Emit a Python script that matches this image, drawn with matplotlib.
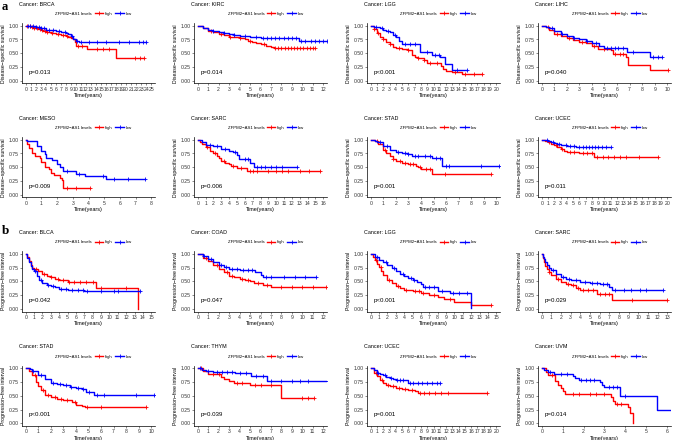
import matplotlib
matplotlib.use('Agg')
import numpy as np
import matplotlib.pyplot as plt
from matplotlib.lines import Line2D

plt.rcParams['font.family'] = ['Liberation Sans', 'DejaVu Sans']

# step curves: (times, survival after that time); *_CENS = censor times
# ---- a: disease-specific survival ----
A_BRCA_HIGH = ([0, 0.5, 1, 1.5, 2, 2.5, 3, 3.5, 4, 5, 6, 7, 8, 8.5, 9, 9.5, 9.8, 10.1, 12.3, 18.0, 23.6],
               [1.0, 0.99, 0.98, 0.96, 0.95, 0.94, 0.92, 0.91, 0.89, 0.87, 0.85, 0.83, 0.81, 0.79, 0.77, 0.75, 0.70, 0.63, 0.57, 0.42, 0.42])
A_BRCA_HIGH_CENS = [0.3, 0.8, 1.2, 1.7, 2.3, 2.8, 3.3, 3.8, 4.3, 5.2, 6.4, 7.5, 8.3, 10.5, 11.2, 14.2, 15.4, 16.6, 21.8, 22.7, 23.6]
A_BRCA_LOW = ([0, 1, 2, 3, 4, 5, 6, 7, 8, 8.5, 9, 9.5, 10, 10.6, 24.0],
              [1.0, 0.99, 0.97, 0.95, 0.93, 0.92, 0.90, 0.89, 0.87, 0.85, 0.81, 0.76, 0.73, 0.70, 0.70])
A_BRCA_LOW_CENS = [0.4, 0.9, 1.4, 2.1, 2.6, 3.1, 3.6, 4.6, 5.5, 6.7, 7.8, 9.2, 10.3, 11.0, 12.5, 14.2, 16.0, 18.5, 20.5, 22.5, 23.3, 24.0]

A_KIRC_HIGH = ([0, 0.5, 1, 1.5, 2, 2.5, 3, 3.5, 4, 4.5, 4.8, 5.2, 5.6, 6, 6.5, 7, 7.3, 11.2],
               [1, 0.95, 0.91, 0.88, 0.85, 0.83, 0.80, 0.79, 0.77, 0.75, 0.72, 0.70, 0.68, 0.66, 0.64, 0.62, 0.60, 0.60])
A_KIRC_HIGH_CENS = [1.3, 2.2, 3.1, 4.0, 5.0, 6.3, 7.4, 7.7, 8.0, 8.3, 8.6, 8.9, 9.2, 9.5, 9.8, 10.1, 10.4, 10.7, 11.0, 11.2]
A_KIRC_LOW = ([0, 0.5, 1, 1.5, 2, 2.5, 3, 3.5, 4, 5, 5.5, 6, 7, 9.7, 12.4],
              [1, 0.96, 0.93, 0.91, 0.89, 0.87, 0.85, 0.84, 0.82, 0.80, 0.79, 0.78, 0.77, 0.72, 0.72])
A_KIRC_LOW_CENS = [1.5, 2.5, 3.5, 4.5, 5.6, 6.2, 6.6, 7.0, 7.4, 7.8, 8.2, 8.6, 9.0, 9.4, 9.9, 10.3, 10.8, 11.2, 11.6, 12.0, 12.4]

A_LGG_HIGH = ([0, 0.5, 1, 1.5, 2, 2.5, 3, 3.5, 4, 5, 6, 6.5, 7, 7.5, 8.5, 9, 11.2, 11.5, 12, 13, 14.5, 17.7],
              [1, 0.94, 0.87, 0.80, 0.75, 0.70, 0.66, 0.62, 0.60, 0.57, 0.55, 0.47, 0.44, 0.42, 0.38, 0.32, 0.27, 0.22, 0.18, 0.15, 0.12, 0.12])
A_LGG_HIGH_CENS = [0.5, 1.2, 2.0, 3.0, 4.5, 6.0, 7.5, 8.5, 9.5, 10.5, 13.5, 15.0, 16.5, 17.7]
A_LGG_LOW = ([0, 0.5, 1, 1.5, 2, 2.5, 3, 3.5, 4, 4.5, 5, 7.8, 9.7, 11, 11.8, 13, 15.3],
             [1, 0.98, 0.97, 0.95, 0.93, 0.91, 0.88, 0.84, 0.80, 0.72, 0.66, 0.52, 0.47, 0.43, 0.30, 0.20, 0.20])
A_LGG_LOW_CENS = [0.8, 1.8, 2.8, 3.8, 5.5, 6.2, 7.0, 9.0, 10.2, 10.8, 13.8, 15.3]

A_LIHC_HIGH = ([0, 0.3, 0.6, 1, 1.5, 2, 2.5, 3, 3.5, 4, 4.5, 5.5, 5.7, 6.7, 6.9, 8.6, 10.1],
               [1, 0.97, 0.92, 0.85, 0.81, 0.78, 0.74, 0.71, 0.68, 0.64, 0.57, 0.56, 0.49, 0.44, 0.29, 0.20, 0.20])
A_LIHC_HIGH_CENS = [0.5, 1.2, 2.2, 3.2, 4.2, 5.0, 5.8, 6.2, 6.5, 10.1]
A_LIHC_LOW = ([0, 0.3, 0.6, 1, 1.5, 2, 2.5, 3, 3.5, 4, 4.6, 5, 6.8, 8.6, 9.6],
              [1, 0.98, 0.95, 0.90, 0.85, 0.81, 0.78, 0.76, 0.73, 0.69, 0.64, 0.59, 0.53, 0.44, 0.44])
A_LIHC_LOW_CENS = [0.8, 1.6, 2.6, 3.6, 4.3, 5.2, 5.5, 5.8, 6.1, 6.5, 7.3, 8.9, 9.3, 9.6]

A_MESO_HIGH = ([0, 0.1, 0.2, 0.4, 0.6, 0.9, 1.0, 1.2, 1.5, 1.6, 1.8, 2.2, 2.3, 2.4, 4.1],
               [1, 0.93, 0.85, 0.76, 0.70, 0.67, 0.60, 0.50, 0.46, 0.40, 0.36, 0.30, 0.26, 0.12, 0.12])
A_MESO_HIGH_CENS = [2.6, 3.2, 4.1]
A_MESO_LOW = ([0, 0.1, 0.7, 1.0, 1.2, 1.3, 1.7, 2.0, 2.2, 2.4, 3.2, 3.8, 5.1, 7.6],
              [1, 0.97, 0.88, 0.80, 0.74, 0.67, 0.64, 0.55, 0.50, 0.43, 0.38, 0.34, 0.28, 0.28])
A_MESO_LOW_CENS = [2.6, 3.4, 4.9, 5.6, 6.5, 7.6]

A_SARC_HIGH = ([0, 0.3, 0.5, 1, 1.5, 2, 2.5, 2.7, 3, 3.5, 4, 4.3, 5, 6.3, 15.6],
               [1, 0.96, 0.93, 0.86, 0.80, 0.76, 0.71, 0.67, 0.62, 0.58, 0.55, 0.53, 0.48, 0.44, 0.44])
A_SARC_HIGH_CENS = [1.2, 2.2, 3.3, 4.5, 5.5, 6.6, 7.0, 7.5, 9.0, 10.0, 10.8, 11.5, 13.0, 14.2, 15.6]
A_SARC_LOW = ([0, 0.5, 1, 2, 3, 4, 4.5, 5, 5.3, 6.7, 7.2, 12.6],
              [1, 0.95, 0.91, 0.88, 0.84, 0.80, 0.77, 0.73, 0.65, 0.58, 0.50, 0.50])
A_SARC_LOW_CENS = [1.5, 2.5, 3.5, 4.8, 6.0, 6.4, 7.6, 8.0, 8.6, 9.3, 10.0, 10.8, 12.6]

A_STAD_HIGH = ([0, 0.3, 0.6, 1, 1.25, 1.5, 1.75, 2, 2.5, 3, 3.6, 3.8, 4, 4.9, 9.6],
               [1, 0.97, 0.92, 0.82, 0.76, 0.70, 0.65, 0.62, 0.57, 0.55, 0.53, 0.51, 0.47, 0.37, 0.37])
A_STAD_HIGH_CENS = [0.5, 1.1, 1.8, 2.3, 2.7, 3.1, 3.4, 3.9, 4.4, 4.7, 5.9, 9.6]
A_STAD_LOW = ([0, 0.3, 0.5, 1, 1.5, 2, 2.5, 3, 3.3, 4.9, 5.7, 10.2],
              [1, 0.98, 0.96, 0.88, 0.82, 0.78, 0.75, 0.74, 0.71, 0.66, 0.52, 0.52])
A_STAD_LOW_CENS = [0.7, 1.3, 2.2, 2.7, 3.0, 3.5, 3.8, 4.3, 4.7, 5.2, 5.5, 6.0, 6.2, 8.8, 10.2]

A_UCEC_HIGH = ([0, 0.5, 1, 1.5, 2, 2.5, 3, 3.5, 4, 5.8, 6, 8.3, 18.6],
               [1, 0.98, 0.96, 0.93, 0.90, 0.86, 0.83, 0.80, 0.78, 0.77, 0.76, 0.69, 0.69])
A_UCEC_HIGH_CENS = [1.2, 2.2, 3.3, 4.5, 5.2, 6.5, 7.2, 8.0, 8.8, 9.7, 10.5, 11.5, 12.5, 13.5, 15.5, 18.6]
A_UCEC_LOW = ([0, 0.5, 1, 1.5, 2, 2.5, 3, 3.5, 4, 5, 5.5, 11],
              [1, 0.99, 0.97, 0.96, 0.94, 0.93, 0.91, 0.90, 0.89, 0.88, 0.87, 0.87])
A_UCEC_LOW_CENS = [0.8, 1.8, 2.8, 3.8, 4.5, 5.2, 6.0, 6.5, 7.0, 7.5, 8.0, 8.5, 9.0, 9.6, 10.2, 11.0]

# ---- b: progression-free interval ----
B_BLCA_HIGH = ([0, 0.2, 0.4, 0.6, 0.8, 1, 1.5, 2, 2.5, 3, 3.5, 4, 5, 8.4, 13.4],
               [1, 0.95, 0.87, 0.80, 0.75, 0.72, 0.68, 0.63, 0.60, 0.58, 0.55, 0.52, 0.48, 0.38, 0.0])
B_BLCA_HIGH_CENS = [1.2, 2.2, 3.0, 3.8, 4.5, 5.2, 5.8, 6.5, 7.2, 8.0, 9.0, 12.0]
B_BLCA_LOW = ([0, 0.2, 0.4, 0.6, 0.8, 1, 1.3, 1.6, 2, 2.5, 3, 3.5, 4, 5, 7, 13.6],
              [1, 0.93, 0.85, 0.78, 0.72, 0.68, 0.60, 0.53, 0.47, 0.43, 0.41, 0.39, 0.36, 0.35, 0.32, 0.32])
B_BLCA_LOW_CENS = [1.1, 1.8, 2.6, 3.2, 4.2, 4.8, 5.5, 6.2, 6.8, 7.3, 9.0, 10.5, 11.0, 13.6]

B_COAD_HIGH = ([0, 0.5, 1, 1.5, 2, 2.5, 3, 3.5, 4, 4.5, 5, 5.4, 6.2, 7, 12.3],
               [1, 0.93, 0.87, 0.80, 0.73, 0.66, 0.60, 0.57, 0.55, 0.53, 0.51, 0.47, 0.43, 0.39, 0.39])
B_COAD_HIGH_CENS = [0.8, 1.8, 2.8, 3.3, 4.2, 4.8, 5.8, 6.6, 8.0, 9.0, 10.0, 11.0, 12.3]
B_COAD_LOW = ([0, 0.5, 1, 1.5, 2, 2.5, 3, 4, 5.5, 6, 6.2, 11.3],
              [1, 0.96, 0.91, 0.85, 0.80, 0.76, 0.72, 0.70, 0.66, 0.62, 0.57, 0.57])
B_COAD_LOW_CENS = [0.6, 1.3, 2.2, 2.7, 3.3, 3.8, 4.3, 4.8, 5.2, 6.5, 7.0, 8.2, 9.3, 10.3, 11.3]

B_LGG_HIGH = ([0, 0.25, 0.5, 0.75, 1, 1.25, 1.5, 2, 2.5, 3, 3.5, 4, 5, 6, 7, 8, 8.8, 10, 12, 14.4],
              [1, 0.95, 0.89, 0.82, 0.76, 0.69, 0.62, 0.53, 0.46, 0.42, 0.38, 0.35, 0.32, 0.28, 0.25, 0.22, 0.18, 0.12, 0.06, 0.06])
B_LGG_HIGH_CENS = [0.6, 1.2, 2.2, 3.2, 4.2, 5.3, 5.8, 6.3, 7.5, 9.5, 14.4]
B_LGG_LOW = ([0, 0.5, 1, 1.5, 2, 2.5, 3, 3.5, 4, 4.5, 5, 5.5, 6, 6.3, 8, 9.5, 12],
             [1, 0.95, 0.89, 0.85, 0.80, 0.74, 0.69, 0.64, 0.60, 0.56, 0.52, 0.48, 0.45, 0.40, 0.33, 0.28, 0.02])
B_LGG_LOW_CENS = [0.8, 1.8, 2.8, 3.8, 4.8, 5.2, 6.5, 7.0, 7.5, 8.5, 9.8, 10.5, 11.5]

B_SARC_HIGH = ([0, 0.1, 0.2, 0.35, 0.5, 0.75, 1, 1.5, 2, 2.5, 3, 3.5, 4, 5.7, 7.3, 13],
               [1, 0.93, 0.85, 0.78, 0.72, 0.66, 0.62, 0.55, 0.48, 0.45, 0.43, 0.38, 0.35, 0.27, 0.16, 0.16])
B_SARC_HIGH_CENS = [0.8, 1.7, 2.7, 3.2, 3.8, 4.3, 4.8, 5.3, 6.0, 6.6, 7.0, 9.4, 13.0]
B_SARC_LOW = ([0, 0.1, 0.2, 0.35, 0.5, 0.75, 1, 1.5, 2, 2.5, 3, 4, 5, 6, 7, 7.3, 12.6],
              [1, 0.95, 0.90, 0.85, 0.80, 0.75, 0.71, 0.63, 0.57, 0.55, 0.52, 0.49, 0.47, 0.45, 0.40, 0.34, 0.34])
B_SARC_LOW_CENS = [1.2, 2.2, 2.8, 3.5, 4.5, 5.2, 5.7, 6.3, 6.8, 7.6, 8.5, 9.2, 10.2, 10.8, 12.6]

B_STAD_HIGH = ([0, 0.25, 0.5, 0.8, 1, 1.2, 1.5, 2, 2.5, 3, 3.7, 4, 4.5, 4.7, 9.6],
               [1, 0.95, 0.88, 0.75, 0.67, 0.60, 0.52, 0.47, 0.44, 0.42, 0.38, 0.34, 0.31, 0.29, 0.29])
B_STAD_HIGH_CENS = [0.7, 1.4, 1.8, 2.3, 2.8, 3.3, 3.9, 4.9, 6.0, 9.6]
B_STAD_LOW = ([0, 0.3, 0.5, 1, 1.5, 2, 2.5, 3, 3.5, 4, 4.5, 4.8, 5.4, 10.2],
              [1, 0.98, 0.95, 0.88, 0.80, 0.73, 0.71, 0.69, 0.66, 0.64, 0.62, 0.57, 0.51, 0.51])
B_STAD_LOW_CENS = [0.6, 1.2, 2.2, 2.7, 3.2, 3.6, 4.2, 4.6, 5.0, 5.7, 6.2, 8.8, 10.2]

B_THYM_HIGH = ([0, 0.5, 1, 2.2, 2.5, 3, 3.5, 5, 8, 11.1],
               [1, 0.95, 0.90, 0.85, 0.80, 0.77, 0.74, 0.69, 0.46, 0.46])
B_THYM_HIGH_CENS = [0.3, 1.5, 2.0, 3.8, 4.2, 5.5, 6.0, 7.0, 10.0, 10.5, 11.1]
B_THYM_LOW = ([0, 0.4, 0.8, 1.5, 3.6, 5.1, 6.6, 12.5],
              [1, 0.97, 0.95, 0.93, 0.91, 0.86, 0.76, 0.76])
B_THYM_LOW_CENS = [0.2, 1.0, 1.8, 2.3, 2.8, 3.3, 4.0, 4.6, 5.6, 6.2, 7.0, 8.0, 9.0, 9.8, 10.5, 12.5]

B_UCEC_HIGH = ([0, 0.5, 1, 1.5, 2, 2.5, 3, 4, 5, 6, 7, 7.5, 18.6],
               [1, 0.92, 0.86, 0.79, 0.74, 0.70, 0.67, 0.64, 0.62, 0.60, 0.58, 0.55, 0.55])
B_UCEC_HIGH_CENS = [0.8, 1.8, 2.8, 3.5, 4.5, 5.5, 6.5, 7.8, 8.5, 9.3, 10.2, 11.2, 12.3, 18.6]
B_UCEC_LOW = ([0, 0.5, 1, 1.5, 2, 2.5, 3, 3.5, 4, 5.5, 6, 11],
              [1, 0.96, 0.92, 0.90, 0.87, 0.85, 0.82, 0.80, 0.79, 0.78, 0.73, 0.73])
B_UCEC_LOW_CENS = [1.2, 2.2, 3.3, 4.2, 4.7, 5.2, 6.2, 6.8, 7.5, 8.2, 9.0, 9.8, 10.5, 11.0]

B_UVM_HIGH = ([0, 0.2, 0.3, 0.65, 0.8, 0.9, 1.0, 1.1, 3.3, 3.4, 3.5, 4.1, 4.2, 4.35],
              [1, 0.94, 0.88, 0.76, 0.70, 0.64, 0.58, 0.53, 0.47, 0.41, 0.35, 0.29, 0.18, 0.0])
B_UVM_HIGH_CENS = [0.5, 1.5, 1.8, 2.3, 2.6, 3.0, 3.6, 3.8]
B_UVM_LOW = ([0, 0.1, 0.3, 0.6, 1.5, 1.6, 1.8, 2.8, 2.9, 3.0, 3.75, 5.5, 6.3],
             [1, 0.96, 0.93, 0.90, 0.86, 0.82, 0.79, 0.75, 0.70, 0.66, 0.50, 0.25, 0.25])
B_UVM_LOW_CENS = [0.4, 0.9, 1.2, 1.9, 2.1, 2.3, 2.5, 3.2, 3.4, 3.6, 4.0, 6.3]

# panel rows: (cancer, high, high censor, low, low censor, p text, max tick)
ROW_A1 = [("BRCA", A_BRCA_HIGH, A_BRCA_HIGH_CENS, A_BRCA_LOW, A_BRCA_LOW_CENS, "p=0.013", 25),
          ("KIRC", A_KIRC_HIGH, A_KIRC_HIGH_CENS, A_KIRC_LOW, A_KIRC_LOW_CENS, "p=0.014", 12),
          ("LGG", A_LGG_HIGH, A_LGG_HIGH_CENS, A_LGG_LOW, A_LGG_LOW_CENS, "p<0.001", 20),
          ("LIHC", A_LIHC_HIGH, A_LIHC_HIGH_CENS, A_LIHC_LOW, A_LIHC_LOW_CENS, "p=0.040", 10)]
ROW_A2 = [("MESO", A_MESO_HIGH, A_MESO_HIGH_CENS, A_MESO_LOW, A_MESO_LOW_CENS, "p=0.009", 8),
          ("SARC", A_SARC_HIGH, A_SARC_HIGH_CENS, A_SARC_LOW, A_SARC_LOW_CENS, "p=0.006", 16),
          ("STAD", A_STAD_HIGH, A_STAD_HIGH_CENS, A_STAD_LOW, A_STAD_LOW_CENS, "p=0.001", 10),
          ("UCEC", A_UCEC_HIGH, A_UCEC_HIGH_CENS, A_UCEC_LOW, A_UCEC_LOW_CENS, "p=0.011", 20)]
ROW_B1 = [("BLCA", B_BLCA_HIGH, B_BLCA_HIGH_CENS, B_BLCA_LOW, B_BLCA_LOW_CENS, "p=0.042", 15),
          ("COAD", B_COAD_HIGH, B_COAD_HIGH_CENS, B_COAD_LOW, B_COAD_LOW_CENS, "p=0.047", 12),
          ("LGG", B_LGG_HIGH, B_LGG_HIGH_CENS, B_LGG_LOW, B_LGG_LOW_CENS, "p<0.001", 15),
          ("SARC", B_SARC_HIGH, B_SARC_HIGH_CENS, B_SARC_LOW, B_SARC_LOW_CENS, "p=0.029", 13)]
ROW_B2 = [("STAD", B_STAD_HIGH, B_STAD_HIGH_CENS, B_STAD_LOW, B_STAD_LOW_CENS, "p<0.001", 10),
          ("THYM", B_THYM_HIGH, B_THYM_HIGH_CENS, B_THYM_LOW, B_THYM_LOW_CENS, "p=0.039", 12),
          ("UCEC", B_UCEC_HIGH, B_UCEC_HIGH_CENS, B_UCEC_LOW, B_UCEC_LOW_CENS, "p=0.001", 20),
          ("UVM", B_UVM_HIGH, B_UVM_HIGH_CENS, B_UVM_LOW, B_UVM_LOW_CENS, "p=0.014", 6)]

Y_TICKS = [0, 0.25, 0.5, 0.75, 1.0]
Y_TICKLABELS = ["0.00", "0.25", "0.50", "0.75", "1.00"]

W, H = 676, 440
COL_LEFT = [22, 194, 367, 538]
ROW_TOP = [23, 137, 251, 365.5]
AX_W, AX_H = 133, 60.5
LW, MS = 1.0, 3.0


def draw_curve(ax, curve, cens, color):
    t, s = curve
    ax.step(t, s, where='post', color=color, lw=LW)
    idx = np.searchsorted(t, cens, side='right') - 1
    ax.plot(cens, np.array(s)[idx], '+', color=color, ms=MS, mew=0.6)


def km_panel(left, top, panel, ylab):
    name, high, high_c, low, low_c, ptxt, tmax = panel
    ax = fig.add_axes([left / W, 1 - (top + AX_H) / H, AX_W / W, AX_H / H])
    draw_curve(ax, high, high_c, 'red')
    draw_curve(ax, low, low_c, 'blue')

    ax.set_xlim(-0.03 * tmax, 1.03 * tmax)
    ax.set_ylim(-0.05, 1.05)
    ax.set_xticks(range(0, tmax + 1))
    ax.set_yticks(Y_TICKS)
    ax.set_yticklabels(Y_TICKLABELS)
    for sp in ['top', 'right']:
        ax.spines[sp].set_visible(False)
    for sp in ['left', 'bottom']:
        ax.spines[sp].set_linewidth(0.5)
    ax.tick_params(length=1.5, width=0.4, labelsize=3.7, pad=1, colors='#333333')
    ax.set_xlabel("Time(years)", fontsize=4.0, labelpad=1)
    ax.set_ylabel(ylab, fontsize=3.7, labelpad=1.5)

    ax.text(0.05, 0.19, ptxt, transform=ax.transAxes, fontsize=4.4, va='center', ha='left')
    ax.text(-0.02, 1 + 19 / AX_H, "Cancer: " + name, transform=ax.transAxes,
            fontsize=3.9, va='center', ha='left')

    handles = [Line2D([], [], linestyle='none'),
               Line2D([], [], color='red', lw=LW, marker='+', ms=MS, mew=0.6),
               Line2D([], [], color='blue', lw=LW, marker='+', ms=MS, mew=0.6)]
    ax.legend(handles, ["ZFPM2\u2212AS1 levels", "high", "low"], ncol=3,
              loc='center', bbox_to_anchor=(0.5, 1 + 9 / AX_H), frameon=False,
              fontsize=3.1, handlelength=2, handletextpad=0.4, columnspacing=0.6,
              borderpad=0, borderaxespad=0)
    return ax


fig = plt.figure(figsize=(W / 100, H / 100), dpi=100)

rows = [(ROW_A1, "Disease\u2212specific survival"), (ROW_A2, "Disease\u2212specific survival"),
        (ROW_B1, "Progression\u2212free interval"), (ROW_B2, "Progression\u2212free interval")]
for r, (row, ylab) in enumerate(rows):
    for c, panel in enumerate(row):
        km_panel(COL_LEFT[c], ROW_TOP[r], panel, ylab)

fig.text(2 / W, 1 - 9.5 / H, "a", fontfamily='Liberation Serif', fontweight='bold', fontsize=9, va='baseline')
fig.text(2 / W, 1 - 234 / H, "b", fontfamily='Liberation Serif', fontweight='bold', fontsize=9.5, va='baseline')

fig.savefig("out.png", dpi=100)
